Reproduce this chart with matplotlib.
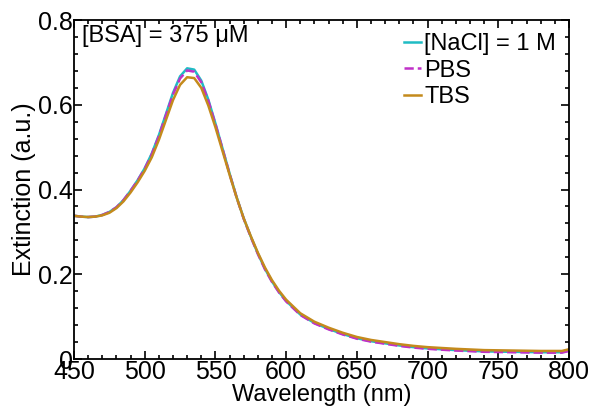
import matplotlib
matplotlib.use("Agg")
import matplotlib.pyplot as plt
from matplotlib.ticker import MultipleLocator
import numpy as np

plt.rcParams['font.family'] = ['Liberation Sans', 'DejaVu Sans']

wavelength = [450, 455, 460, 465, 470, 475, 480, 485, 490, 495, 500, 505, 510, 515,
              520, 525, 530, 535, 540, 545, 550, 555, 560, 565, 570, 575, 580, 585,
              590, 595, 600, 610, 620, 630, 640, 650, 660, 670, 680, 690, 700, 720,
              740, 760, 780, 795, 800]

nacl = [0.338, 0.336, 0.335, 0.336, 0.340, 0.347, 0.358, 0.375, 0.397, 0.422, 0.450,
        0.485, 0.528, 0.578, 0.628, 0.667, 0.686, 0.683, 0.657, 0.612, 0.556, 0.497,
        0.438, 0.382, 0.332, 0.289, 0.249, 0.213, 0.183, 0.158, 0.137, 0.105, 0.085,
        0.071, 0.059, 0.049, 0.042, 0.037, 0.032, 0.028, 0.025, 0.021, 0.018, 0.017,
        0.016, 0.016, 0.020]

pbs = [0.338, 0.336, 0.335, 0.336, 0.340, 0.347, 0.358, 0.375, 0.397, 0.421, 0.449,
       0.483, 0.526, 0.575, 0.624, 0.662, 0.681, 0.678, 0.653, 0.609, 0.554, 0.496,
       0.437, 0.381, 0.331, 0.288, 0.248, 0.212, 0.182, 0.157, 0.136, 0.104, 0.084,
       0.070, 0.058, 0.048, 0.041, 0.036, 0.031, 0.027, 0.024, 0.020, 0.017, 0.016,
       0.015, 0.015, 0.019]

tbs = [0.338, 0.336, 0.335, 0.336, 0.339, 0.345, 0.356, 0.372, 0.393, 0.417, 0.444,
       0.476, 0.517, 0.564, 0.611, 0.647, 0.665, 0.663, 0.640, 0.598, 0.547, 0.491,
       0.435, 0.381, 0.332, 0.290, 0.251, 0.216, 0.186, 0.161, 0.140, 0.108, 0.088,
       0.074, 0.062, 0.052, 0.045, 0.040, 0.035, 0.031, 0.028, 0.024, 0.021, 0.020,
       0.019, 0.019, 0.023]

labels = ["[NaCl] = 1 M", "PBS", "TBS"]
colors = ["#1fbcc4", "#c030c8", "#c48a1c"]
styles = ["-", "--", "-"]

fig = plt.figure(figsize=(5.9, 4.11), dpi=100)
ax = fig.add_axes([0.1254, 0.1265, 0.839, 0.8248])

for y, lab, c, ls in zip([nacl, pbs, tbs], labels, colors, styles):
    ax.plot(wavelength, y, color=c, ls=ls, lw=1.8, label=lab)

ax.set_xlim(450, 800)
ax.set_ylim(0, 0.8)
ax.xaxis.set_major_locator(MultipleLocator(50))
ax.xaxis.set_minor_locator(MultipleLocator(10))
ax.yaxis.set_minor_locator(MultipleLocator(0.04))
ax.set_yticks([0, 0.2, 0.4, 0.6, 0.8])
ax.set_yticklabels(["0", "0.2", "0.4", "0.6", "0.8"])
ax.tick_params(which='both', direction='in', top=True, right=True, labelsize=18, width=1.2)
ax.tick_params(which='major', length=6, pad=1)
ax.tick_params(which='minor', length=3)
for s in ax.spines.values():
    s.set_linewidth(1.3)

ax.set_xlabel("Wavelength (nm)", fontsize=17, labelpad=0)
ax.set_ylabel("Extinction (a.u.)", fontsize=18, labelpad=1)

ax.text(0.016, 0.985, "[BSA] = 375 μM", transform=ax.transAxes, fontsize=17,
        ha='left', va='top')

leg = ax.legend(loc='upper right', frameon=False, fontsize=17, handlelength=0.7,
                handletextpad=0.15, labelspacing=0.2, borderaxespad=0.15)

fig.savefig("out.png", dpi=100)
